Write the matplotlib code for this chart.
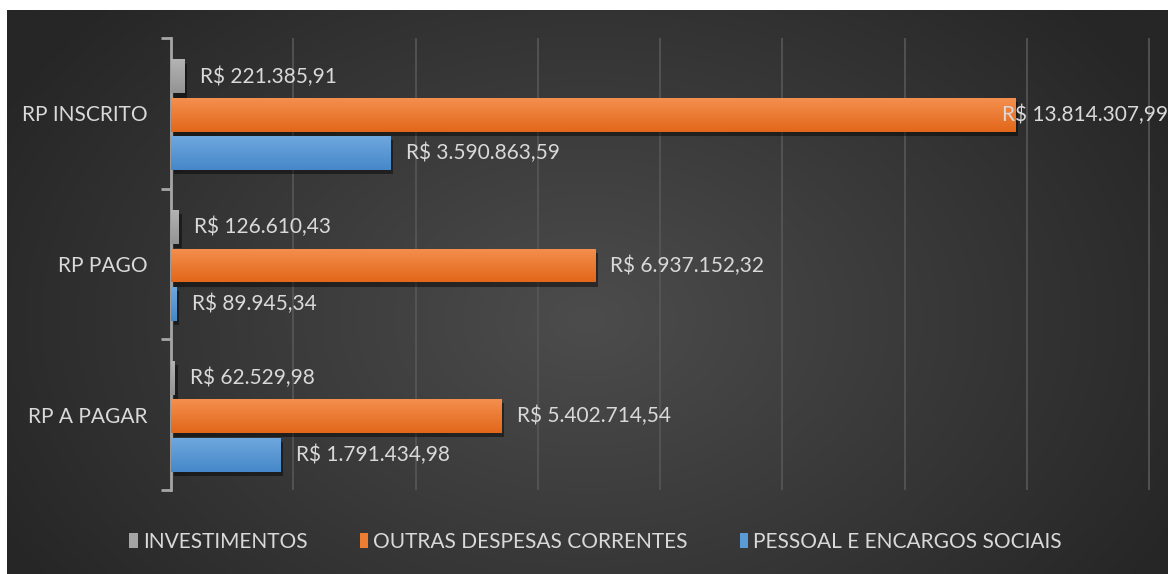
import numpy as np
import matplotlib.pyplot as plt
from matplotlib import patheffects as pe
from matplotlib.colors import LinearSegmentedColormap
from matplotlib.patches import Patch

plt.rcParams['font.family'] = ['Lato', 'DejaVu Sans']

categories = ["RP INSCRITO", "RP PAGO", "RP A PAGAR"]
series_names = ["INVESTIMENTOS", "OUTRAS DESPESAS CORRENTES", "PESSOAL E ENCARGOS SOCIAIS"]
investimentos = [221385.91, 126610.43, 62529.98]
outras = [13814307.99, 6937152.32, 5402714.54]
pessoal = [3590863.59, 89945.34, 1791434.98]

colors = ["#a5a5a5", "#ed7d31", "#5b9bd5"]
tops = ["#b4b4b4", "#f48f4e", "#6fa8de"]
bottoms = ["#939393", "#e2671a", "#4587c9"]
text_color = "#d9d9d9"


def brl(v):
    s = f"{v:,.2f}".replace(",", "X").replace(".", ",").replace("X", ".")
    return "R$ " + s


W, H = 1168, 574
fig = plt.figure(figsize=(W / 100, H / 100), dpi=100)
fig.patch.set_facecolor("white")

# dark radial background
bg = fig.add_axes([7 / W, 0, 1 - 7 / W, 1 - 10 / H])
bg.axis("off")
yy, xx = np.mgrid[0:1:300j, 0:1:600j]
r = np.sqrt(((xx - 0.5) * 1.3) ** 2 + ((yy - 0.55) * 0.9) ** 2)
r = np.clip(r / 0.75, 0, 1)
bg_cmap = LinearSegmentedColormap.from_list("bg", ["#4c4c4c", "#262626"])
bg.imshow(r, cmap=bg_cmap, aspect="auto", extent=(0, 1, 0, 1))
bg.set_xlim(0, 1)
bg.set_ylim(0, 1)

ax = fig.add_axes([171 / W, 84 / H, 997 / W, 452 / H])
ax.patch.set_alpha(0)

y = np.arange(len(categories))
# small downward shift of the bar block, as in the reference
offsets = [-0.245, 0.01, 0.265]
height = 0.225
data = [investimentos, outras, pessoal]
xmax = 16.31e6

grad = np.linspace(0, 1, 50).reshape(-1, 1)
for vals, off, c, ct, cb in zip(data, offsets, colors, tops, bottoms):
    bars = ax.barh(y + off, vals, height=height, color=c, zorder=3,
                   path_effects=[pe.SimplePatchShadow(offset=(2, -3), shadow_rgbFace="black", alpha=0.45),
                                 pe.Normal()])
    cm = LinearSegmentedColormap.from_list("g", [ct, cb])
    for b in bars:
        x0, y0 = b.get_x(), b.get_y()
        im = ax.imshow(grad, cmap=cm, aspect="auto", zorder=4,
                       extent=(x0, x0 + b.get_width(), y0 + b.get_height(), y0))
        im.set_clip_path(b)
    for yi, v in zip(y + off, vals):
        if v > 0.8 * xmax:
            ax.annotate(brl(v), xy=(1.0, yi), xycoords=("axes fraction", "data"),
                        xytext=(0, 0), textcoords="offset points", ha="right", va="center",
                        color=text_color, fontsize=15, zorder=6)
        else:
            ax.annotate(brl(v), xy=(v, yi), xytext=(11, 0), textcoords="offset points",
                        ha="left", va="center", color=text_color, fontsize=15, zorder=6)

ax.set_xlim(0, xmax)
ax.set_ylim(len(categories) - 0.5, -0.5)
ax.set_xticks(np.arange(2e6, xmax, 2e6))
ax.tick_params(axis="x", length=0, labelbottom=False)
ax.grid(axis="x", color="#575757", linewidth=1.2, zorder=0)
for s in ["top", "right", "bottom"]:
    ax.spines[s].set_visible(False)
ax.spines["left"].set_color("#a6a6a6")
ax.spines["left"].set_linewidth(2)

ax.set_yticks(y)
ax.set_yticklabels(categories, color=text_color, fontsize=15)
ax.tick_params(axis="y", length=0, pad=17)
ax.set_yticks(np.arange(-0.5, len(categories), 1), minor=True)
ax.tick_params(axis="y", which="minor", length=7, width=2, color="#a6a6a6")

handles = [Patch(facecolor=c, edgecolor="none", label=n) for c, n in zip(colors, series_names)]
fig.legend(handles=handles, loc="center", bbox_to_anchor=(0.51, 1 - 542 / H), ncol=3, frameon=False,
           fontsize=15, labelcolor=text_color, handlelength=0.4, handleheight=0.75,
           handletextpad=0.25, columnspacing=2.5)

fig.savefig("out.png", dpi=100, facecolor=fig.get_facecolor())
